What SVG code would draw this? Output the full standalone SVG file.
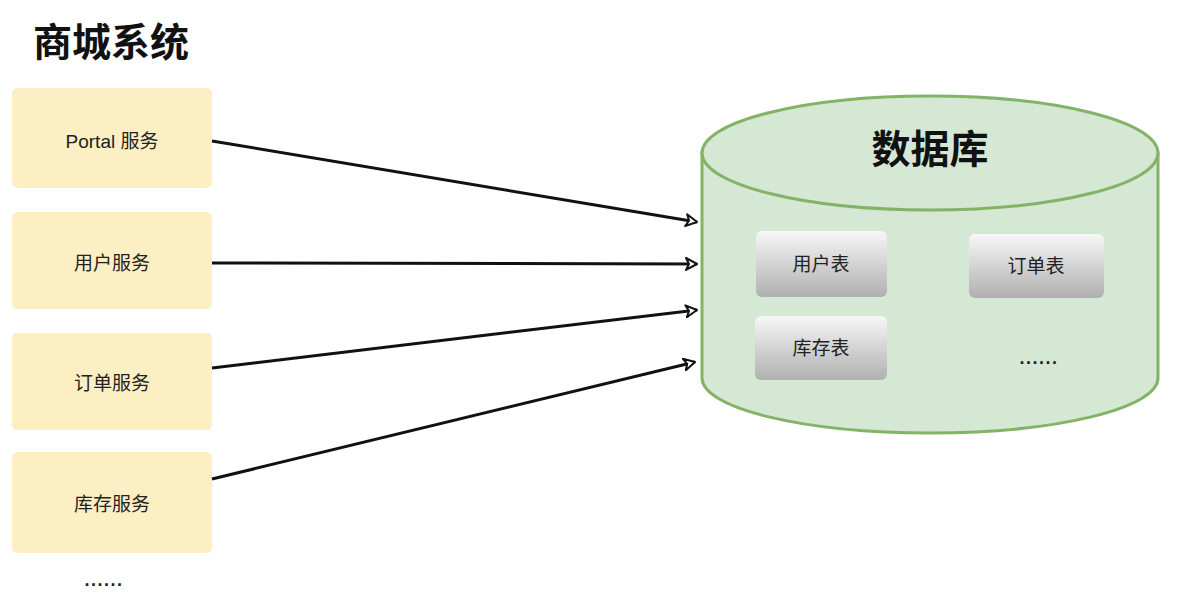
<svg xmlns="http://www.w3.org/2000/svg" width="1180" height="602" viewBox="0 0 1180 602">
<defs>
<linearGradient id="tg" x1="0" y1="0" x2="0" y2="1">
<stop offset="0" stop-color="#f7f7f7"/>
<stop offset="1" stop-color="#b0b0b0"/>
</linearGradient>
<marker id="ah" viewBox="0 0 14 14" refX="12" refY="7" markerWidth="14" markerHeight="14" markerUnits="userSpaceOnUse" orient="auto">
<path d="M1,1 L12,7 L1,13 L4,7 Z" fill="#fff" stroke="#111" stroke-width="2" stroke-linejoin="round"/>
</marker>
</defs>
<style>
.svc{fill:#fcefc4;stroke:none}
.t{font-family:"Liberation Sans","Noto Sans CJK SC",sans-serif;fill:#222;text-anchor:middle}
.st{font-size:19px}
.tb{fill:url(#tg);stroke:none}
.cn{stroke:#111;stroke-width:3;fill:none;marker-end:url(#ah)}
.db{fill:#d5e8d4;stroke:#82b366;stroke-width:3}
.dots{font-size:18px;font-weight:bold;letter-spacing:1.5px}
</style>
<rect width="1180" height="602" fill="#fff"/>
<text class="t" x="111" y="56" style="font-size:39px;font-weight:bold;fill:#111">商城系统</text>
<g id="portal"><rect class="svc" x="12" y="88" width="200" height="100" rx="5"/><text class="t st" x="112" y="148">Portal 服务</text></g>
<g id="user"><rect class="svc" x="12" y="212" width="200" height="97" rx="5"/><text class="t st" x="112" y="270">用户服务</text></g>
<g id="order"><rect class="svc" x="12" y="333" width="200" height="97" rx="5"/><text class="t st" x="112" y="390">订单服务</text></g>
<g id="stock"><rect class="svc" x="12" y="452" width="200" height="101" rx="5"/><text class="t st" x="112" y="511">库存服务</text></g>
<text class="t dots" x="104" y="586">......</text>
<g id="connectors">
<line class="cn" x1="212" y1="141" x2="697" y2="222"/>
<line class="cn" x1="212" y1="263" x2="697" y2="264"/>
<line class="cn" x1="212" y1="368" x2="697" y2="310"/>
<line class="cn" x1="212" y1="479" x2="695" y2="362"/>
</g>
<g id="database">
<path class="db" d="M702,153 L702,378 A228,55 0 0 0 1158,378 L1158,153 Z"/>
<ellipse class="db" cx="930" cy="153" rx="228" ry="57"/>
<text class="t" x="930" y="163" style="font-size:39px;font-weight:bold;fill:#111">数据库</text>
</g>
<g id="t-user"><rect class="tb" x="756" y="231" width="131" height="66" rx="6"/><text class="t st" x="821" y="271">用户表</text></g>
<g id="t-order"><rect class="tb" x="969" y="234" width="135" height="64" rx="6"/><text class="t st" x="1036" y="273">订单表</text></g>
<g id="t-stock"><rect class="tb" x="755" y="316" width="132" height="64" rx="6"/><text class="t st" x="821" y="355">库存表</text></g>
<text class="t dots" x="1039" y="364">......</text>
</svg>
